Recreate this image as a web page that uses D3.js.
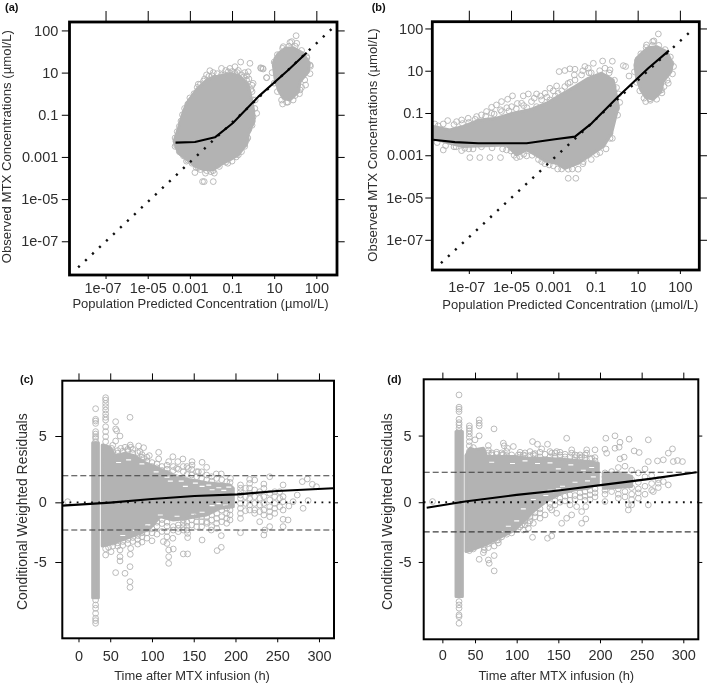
<!DOCTYPE html>
<html><head><meta charset="utf-8">
<script src="https://cdnjs.cloudflare.com/ajax/libs/d3/7.8.5/d3.min.js"></script>
<style>html,body{margin:0;background:#fff}svg{display:block;font-family:"Liberation Sans",Arial,sans-serif;filter:blur(0.35px)}</style>
</head><body><svg id="c" width="709" height="685"></svg>
<script>
// ---------- labels ----------
const logTickValues=[-7,-5,-3,-1,1,3];
const logTickLabels=["1e-07","1e-05","0.001","0.1","10","100"];
const timeTickLabels=["0","50","100","150","200","250","300"];
const resTickLabels=["-5","0","5"];
const xTitleConc="Population Predicted Concentration (µmol/L)";
const yTitleConc="Observed MTX Concentrations (µmol/L)";
const xTitleTime="Time after MTX infusion (h)";
const yTitleRes="Conditional Weighted Residuals";

// ---------- panel a (log10 units) ----------
const aBlob=[[-3.75,-2.26],[-3.54,-1.63],[-3.33,-0.92],[-3.14,-0.44],[-2.91,-0.13],[-2.67,0.22],[-2.19,0.66],[-1.88,0.78],[-1.1,0.95],[-0.65,0.85],[-0.25,0.45],[-0.14,0.03],[0.02,-0.76],[0.05,-1.31],[-0.22,-1.87],[-0.29,-2.34],[-0.69,-2.89],[-1.09,-3.13],[-1.56,-3.37],[-1.88,-3.6],[-2.35,-3.6],[-2.75,-3.45],[-3.14,-3.13],[-3.54,-2.81]];
const aCloud=[[1.2,1.91],[1.51,2.15],[1.91,2.18],[2.38,1.91],[2.67,1.44],[2.62,1.04],[2.23,0.57],[2.15,0.1],[1.75,-0.3],[1.43,-0.22],[1.2,0.18],[1.04,0.73],[0.96,1.36],[1.04,1.68]];
const aPoints=[[-0.59,1.5],[-0.15,1.44],[-0.23,1.04],[-0.86,1.28],[-1.1,1.2],[-1.5,1.2],[-2.05,1.09],[-1.89,1.0],[-2.21,0.89],[-2.45,0.25],[-1.81,0.73],[-1.5,0.89],[-1.18,1.04],[-0.86,0.97],[-0.55,0.89],[-0.31,0.65],[0.37,1.2],[0.48,1.17],[0.64,0.76],[0,0.49],[0.01,-0.3],[0.17,-0.93],[-0.31,-2.19],[-0.26,-1.8],[-0.7,-2.9],[-1.65,-3.37],[-1.84,-3.77],[-2.26,-3.77],[-2.76,-3.74],[-2.4,-4.17],[-2.32,-4.17],[-1.89,-4.17],[-3.16,-3.2],[-3.4,-2.82],[-3.63,-2.46],[-3.27,-1.33],[-3.16,-0.77],[-2.92,-0.3],[-2.1,0.82],[-1.7,0.95],[-1.3,1.1],[-1.0,1.05],[-0.7,1.1],[-0.4,1.0],[-0.2,0.7],[-0.1,0.2],[-2.6,0.45],[-2.35,0.6],[-0.1,-0.6],[-0.05,-1.5],[-0.4,-2.5],[-1.2,-3.3],[-2.0,-3.7],[-2.6,-3.5],
[-3.7,-2.1],[-3.6,-1.8],[-3.5,-1.55],[-3.42,-1.3],[-3.35,-1.0],[-3.25,-0.7],[-3.1,-0.5],[-3.0,-0.2],[-2.8,0.0],[-2.65,0.3],[-2.5,0.45],[-2.3,0.7],[-1.95,0.85],[-1.6,0.75],[-1.35,0.9],[-1.15,0.85],[-0.95,0.9],[-0.75,1.0],[-0.45,0.8],[-0.3,0.85],[-0.05,0.4],
[-3.7,-2.5],[-3.5,-2.75],[-3.3,-2.95],[-3.1,-3.15],[-2.9,-3.3],[-2.7,-3.5],[-2.5,-3.6],[-2.2,-3.65],[-1.9,-3.65],[-1.6,-3.45],[-1.3,-3.25],[-1.0,-3.2],[-0.8,-3.0],[-0.55,-2.75],[-0.4,-2.4],[-0.25,-2.1],[-0.2,-1.7],[-0.1,-1.4],[0.0,-1.1],[0.08,-0.7],[0.1,-0.3],[-0.05,0.1],
[2.04,2.75],[1.75,2.43],[1.83,2.47],[2.07,2.39],[1.43,2.23],[0.36,1.23],[0.45,1.2],[0.64,0.76],[1.04,1.44],[2.49,0.41],[2.23,0.18],[1.99,-0.09],[1.4,-0.49],[1.59,-0.41],[2.7,1.36],[2.54,1.76],
[1.0,1.5],[1.15,1.85],[1.4,2.15],[1.7,2.25],[2.0,2.25],[2.3,2.05],[2.55,1.7],[2.72,1.3],[2.7,0.95],[2.45,0.65],[2.3,0.3],[2.2,0],[1.9,-0.3],[1.65,-0.4],[1.35,-0.3],[1.15,0.1],[1.0,0.5],[0.9,1.0]];
const aSmooth=[[-3.68,-2.32],[-2.76,-2.29],[-1.81,-2.07],[-0.97,-1.4],[0.25,-0.14],[1.67,1.12],[2.54,1.94]];
const aIdentity=[[-8.3,-8.24],[3.97,3.3]];

// ---------- panel b (log10 units) ----------
const bBlob=[[-8.69,-1.64],[-7.9,-1.8],[-7.27,-1.64],[-6.48,-1.33],[-5.69,-1.25],[-4.9,-1.01],[-4.11,-0.85],[-3.32,-0.54],[-1.97,0.25],[-1.34,0.64],[-0.71,0.88],[-0.16,0.56],[0,-0.22],[0.08,-0.7],[-0.08,-1.33],[-0.24,-1.96],[-0.63,-2.59],[-1.34,-3.06],[-1.82,-3.38],[-2.45,-3.62],[-2.84,-3.38],[-3.32,-3.3],[-3.95,-2.91],[-4.26,-2.75],[-4.74,-2.98],[-5.21,-2.51],[-7.27,-2.59],[-7.9,-2.43],[-8.69,-2.2]];
const bCloud=[[1.19,1.83],[1.5,2.09],[1.9,2.14],[2.37,1.91],[2.64,1.35],[2.58,0.96],[2.21,0.49],[2.1,0.01],[1.74,-0.35],[1.38,-0.26],[1.15,0.09],[0.95,0.64],[0.87,1.27],[0.95,1.59]];
const bPoints=[[-0.2,1.45],[-0.66,1.46],[-1.1,1.35],[-1.34,1.12],[-1.5,1.2],[-1.97,1.07],[-2.21,1.09],[-2.45,1.01],[-2.72,0.96],[-0.55,1.12],[-0.31,1.04],[0.32,1.24],[0.43,1.2],[0.59,0.75],[-2.84,0.28],[-3.16,0.17],[-3.39,-0.07],[-3.79,-0.1],[-4.18,-0.1],[-4.42,-0.19],[-4.93,-0.19],[-5.16,-0.35],[-5.45,-0.46],[-5.69,-0.62],[-5.92,-0.73],[-6.16,-0.93],[-6.4,-1.09],[-6.63,-1.17],[-7.03,-1.25],[-7.34,-1.33],[-7.58,-1.41],[-8.0,-1.36],[-8.21,-1.52],[-8.45,-1.61],[-8.61,-1.52],
[-3.55,-0.38],[-4.03,-0.46],[-4.5,-0.54],[-4.97,-0.7],[-5.45,-0.93],[-5.92,-1.01],[-3.79,-0.7],[-3.16,-0.38],[-2.76,-0.07],[-2.45,0.25],[-1.97,0.56],[-1.66,0.8],[-4.25,-0.75],[-4.75,-0.8],[-5.2,-0.75],[-3.0,0.05],[-2.2,0.45],
[-7.7,-1.55],[-7.3,-1.5],[-7,-1.45],[-6.7,-1.3],[-6.2,-1.15],[-5.8,-1.05],[-5.5,-0.85],[-5.1,-0.9],[-4.7,-0.55],[-4.4,-0.65],[-3.9,-0.3],[-3.6,-0.2],[-3.3,-0.25],[-2.9,-0.2],[-2.6,0.05],[-2.3,0.4],[-2.0,0.8],[-1.6,1.0],[-1.3,0.9],
[-8.5,-2.4],[-8.1,-2.55],[-7.6,-2.6],[-7.0,-2.7],[-6.4,-2.6],[-5.9,-2.65],[-5.4,-2.7],[-5.0,-2.8],[-4.85,-3.0],[-4.4,-2.95],[-4.0,-3.0],[-3.7,-3.2],[-3.4,-3.4],[-3.0,-3.5],[-2.6,-3.65],[-2.1,-3.65],[-1.6,-3.4],[-1.2,-3.2],[-0.95,-2.95],[-0.5,-2.7],[-0.2,-2.2],[0.05,-1.1],[0.15,-0.5],[0.1,-0.1],[0,0.2],[-0.1,0.55],[-0.35,0.9],[-0.8,1.0],[-1.2,0.9],
[-6.95,-3.11],[-6.48,-3.11],[-6.0,-3.11],[-5.5,-3.11],[-8.21,-2.75],[-7.34,-2.78],[-7.19,-2.67],[-7.7,-2.6],[-6.8,-2.7],[-5.21,-2.75],[-4.74,-3.11],[-4.58,-3.06],[-4.26,-3.03],[-3.55,-3.3],[-3.19,-3.46],[-2.79,-3.65],[-2.29,-4.09],[-1.93,-4.09],[-2.29,-3.66],[-1.82,-3.66],[-1.58,-3.3],[-0.79,-2.87],[-0.31,-2.2],[-0.31,-1.96],[0,-0.78],[-0.16,0.25],
[1.98,2.74],[1.71,2.38],[1.77,2.41],[1.42,2.22],[1.0,1.46],[2.45,0.41],[2.13,0.09],[1.9,-0.1],[1.38,-0.46],[1.58,-0.33],[2.58,1.35],
[1.0,1.5],[1.15,1.8],[1.4,2.1],[1.7,2.2],[2.0,2.2],[2.3,2.0],[2.55,1.65],[2.7,1.2],[2.65,0.85],[2.4,0.55],[2.25,0.25],[2.15,-0.05],[1.9,-0.35],[1.6,-0.4],[1.3,-0.3],[1.1,0.05],[0.95,0.45],[0.85,0.95]];
const bSmooth=[[-8.69,-2.27],[-7.66,-2.38],[-6.55,-2.43],[-4.26,-2.43],[-2.92,-2.24],[-1.97,-2.12],[-1.18,-1.49],[0.08,-0.22],[1.5,1.12],[2.48,1.95]];
const bIdentity=[[-8.32,-8.11],[3.63,2.98]];

// ---------- panel c (hours, residual) ----------
const cBlob=[[40.5,4.32],[49.7,4.15],[55.7,3.5],[67.7,3.7],[79.6,3.5],[91.6,3.0],[109.6,2.5],[125.5,2.06],[141.5,1.75],[165.5,1.48],[193.4,1.31],[197.4,1.06],[197.4,-0.33],[181.4,-0.45],[165.5,-0.95],[141.5,-1.21],[125.5,-1.33],[109.6,-1.08],[97.6,-1.96],[85.6,-2.34],[69.7,-2.71],[55.7,-3.04],[45.7,-3.22],[40.5,-3.29]];
const cBar=[[29,4.5],[35.8,4.5],[35.8,-7.2],[29,-7.2]];
const cColumns=[[32.5,[7.06,6.26,6.13,5.95,5.33,5.15,4.95,4.82,4.57,-6.98,-7.36,-7.74,-7.99,-8.37,-8.74,-8.92,-9.12]],
[44.5,[7.89,7.71,7.46,7.21,6.96,6.66,6.41,6.21,5.7,5.33,4.95,4.57,-3.97,-3.5]],
[206,[1.31,1.06,0.8,0.55,0.3,-0.08,-0.45,-0.83,-1.21]],[212,[1.06,0.43,-0.08,-0.63]],[217,[1.73,1.43,1.06,0.68,0.3,-0.2,-0.58]],[223,[1.68,0.93,0.43,-0.08,-0.58,-0.83]],[229,[0.8,0.3,-0.2,-0.7,-1.46]],[234,[1.38,1.06,0.43,-0.08,-0.58,-0.95]],[241,[0.68,0.18,-0.33,-0.7,-1.08]],[247,[0.8,0.43,-0.08,-0.45,-0.83]],[253,[0.8,0.3,-0.33]],[257,[1.31,0.43,0.05,-0.58]],
[48,[3.5,3.9,-3.4]],[53,[4.3,3.8,-3.3,-3.0]],[59,[3.9,3.7,-3.3,-3.05]],[65,[3.85,-2.95,-3.25]],[71,[3.9,4.0,-2.8,-3.1]],[77,[3.7,4.0,-2.65,-2.95]],[83,[3.75,-2.5,-2.8,-3.15]],[88,[3.4,3.6,-2.3,-2.6,-3.0]],[94,[3.1,3.4,-2.0,-2.3,-2.7]],
[100,[2.7,3.0,-2.0,-2.3,-2.9]],[106,[2.9,2.6,-1.5,-1.8,-2.4]],[112,[2.4,2.7,-1.3,-1.6,-2.2]],[118,[2.2,2.5,2.8,-1.5,-1.8,-2.2,-2.6,-3.1]],
[125.5,[-1.83,-2.09,2.7,2.4]],[131.5,[-1.71,-1.96,-2.21,2.5]],[137.5,[-1.33,-1.58,-1.83,-2.09,2.31,2.7]],[142,[2.1,2.7,-1.5,-1.8,-2.1]],[147.5,[-1.33,-1.71,2.5,2.06]],[153.5,[-1.08,-1.46,-1.83,2.31,1.93]],[159.5,[-1.08,-1.46,-1.83,2.3,1.8]],[165.5,[-1.08,-1.46,-1.58,2.06,1.7]],[171.5,[-0.95,-1.33,-1.83,1.93,1.6]],[177.5,[-0.83,-1.21,-1.58,-1.96,1.8]],[183.5,[-0.58,-1.08,-1.46,1.7]],[189.5,[-0.45,-0.83,-1.21,-1.58,1.55]],[193.5,[-0.58,-0.95,-1.33,1.5]]];
const cPoints=[[56.5,6.08],[56.5,5.53],[57.7,5.4],[61.7,5.0],[56.5,4.62],[73.7,6.41],[51.7,4.07],[62.5,4.07],[67.7,4.15],[74,4.32],[74.5,4.15],[84,4.25],[90,4.12],[85.6,3.82],[96.8,3.52],[108,3.77],[90,3.32],[108,3.27],[125,3.44],[137,3.27],[120,3.07],[131,3.07],[148,3.07],[148,2.81],[160,3.02],[165.5,2.64],[129.5,2.56],[143.5,2.56],[155.5,2.31],[177,2.14],[183,2.14],[241,1.93],[194,1.81],[280,1.56],[286,1.76],[292,1.36],[297,1.18],[274,0.55],[269,0.05],[264,-0.28],[281,-0.45],[287,0.13],
[206,-2.29],[235,-2.09],[234,-2.46],[241,-1.83],[257,-1.28],[257,-1.83],[263,-1.33],[160,-2.84],[183,-3.39],[178,-3.64],[183,-2.51],[171,-2.09],
[51,-3.72],[61.7,-3.59],[61.7,-4.1],[61.7,-4.42],[74.5,-3.47],[74,-3.92],[56.5,-5.3],[67.7,-5.35],[73.7,-4.85],[73.7,-5.98],[73.7,-6.41],[120,-3.59],[125.5,-3.52],[120,-4.1],[120,-4.6],[113.6,-2.96],[125,-2.71],[137.5,-3.89],[142.7,-3.89],[142.7,-2.34],[142.7,-2.66],[-1,0.05]];
const cFlecks=[[60,3.0],[72,3.2],[88,2.9],[105,2.3],[118,1.9],[122,1.6],[135,1.6],[140,1.2],[152,1.45],[160,1.2],[168,1.3],[172,0.95],[180,1.1],[186,0.9],[192,1.15],[150,-0.9],[160,-0.75],[172,-0.25],[180,-0.1],[188,-0.2],[130,-1.05],[110,-0.95],[95,-1.7],[80,-2.1],[65,-2.5],[128,2.0]];
const cSmooth=[[-7.4,-0.25],[50,-0.02],[100,0.25],[151,0.48],[202,0.6],[250,0.85],[317,1.06]];
const cDashes=[2.0,-2.09];
const cResTicks=[-4.5,0,5];
const cTimeTicks=[12,50,100,150,200,250,300];

// ---------- panel d (hours, residual) ----------
const dBlob=[[39.2,3.5],[44,4.05],[50,3.93],[60,4.05],[64,3.43],[82,3.43],[98,3.43],[114,3.3],[134,3.3],[162,3.18],[186,3.05],[198,2.93],[198,1.43],[186,1.05],[170,0.93],[154,0.68],[138,0.18],[122,-0.58],[114,-1.08],[98,-2.08],[78,-2.7],[62,-3.2],[46,-3.58],[39.2,-3.7]];
const dGapBlob=[[204,2.18],[226,2.18],[238,1.93],[238,1.18],[204,1.05]];
const dBar=[[27.2,5.3],[34.8,5.3],[34.8,-7.07],[27.2,-7.07]];
const dColumns=[[30.8,[8.05,7.13,6.98,6.8,6.22,5.97,5.8,5.55,5.3,-7.45,-7.7,-7.95,-8.45,-8.58,-9.08]],
[43.2,[5.73,5.55,5.35,5.13,4.88,4.55,4.23,3.8,3.3,-3.2,-3.45,-3.63]],
[48,[4.1,-3.5]],[66,[3.7,3.9,-3.1,-3.4]],[70,[3.7,3.55,-2.9]],[76,[3.6,3.75,-2.85]],[82,[3.7,3.55,-2.6]],[88,[3.5,3.8,-2.4]],[94,[3.55,-2.3]],[104,[3.75,3.55,-1.85]],[110,[3.7,3.5,-1.4,-1.7]],[116,[3.5,3.8,-1.1,-1.4]],[122,[3.65,3.5,-0.8,-1.1]],[128,[3.4,3.75,-0.5,-0.8]],[140,[3.4,3.8,-0.1,-0.4]],[146,[3.45,3.7,0.1,-0.2]],[152,[3.4,3.75,0.3,0.0]],[158,[3.4,3.6,0.45,0.1]],[164,[3.4,0.55,0.15,-0.2]],[170,[3.35,3.55,0.5,0.2]],[176,[3.3,3.55,0.7,0.4]],[182,[3.3,3.55,0.8,0.45,0.15]],[188,[3.25,0.9,0.55,0.2]],[194,[3.1,3.35,1.0,0.7,0.4]],
[206,[2.2,1.9,1.6,1.2,0.9,0.6]],[214,[2.3,1.8,1.2,0.8]],[222,[2.6,2.1,1.5,1.0,0.6,0.3]],[230,[2.7,1.9,1.3,0.8,0.4]],[238,[2.4,1.7,1.1,0.6,0.2,-0.2]],[246,[2.2,1.5,1.0,0.7,0.3]],[254,[2.5,1.9,1.2,0.6]],[262,[2.0,1.4,0.9]],[270,[1.7,1.1]]];
const dPoints=[[55,6.18],[55,5.93],[55,5.73],[55,4.98],[50,4.68],[72.8,5.5],[66,4.25],[84,4.43],[85,4.23],[89,4.05],[96,4.18],[119,4.55],[125,4.35],[137,4.35],[130,4.0],[160,4.8],[148,3.8],[142,3.68],[166,3.93],[166,3.68],[184,3.93],[184,3.68],[194,3.93],[102,3.55],[108,3.55],[84,3.6],[120,3.6],[134,3.6],[152,3.55],[172,3.5],[178,3.4],[190,3.3],
[207,4.8],[218,4.98],[206,3.98],[208,3.68],[224,4.5],[223,4.13],[218,4.05],[235,4.73],[224,3.25],[229,3.38],[241,3.85],[247,3.73],[258,4.68],[258,3.05],[269,3.1],[276,3.18],[282,3.68],[287,4.0],[288,3.05],[293,3.13],[299,3.05],[282,1.3],[270,1.43],[276,1.55],[264,0.8],[258,-0.2],[234,-0.2],[234,-0.58],[206,0.05],
[55,-4.28],[60,-3.78],[61,-3.38],[61,-3.58],[66,-4.33],[67,-4.58],[73,-4.0],[73,-5.15],[73,-3.28],[78,-2.83],[78,-3.05],[90,-2.13],[119,-2.63],[137,-2.7],[142,-2.53],[108,-2.08],[114,-1.95],
[154,-1.58],[160,-1.2],[166,-0.95],[178,-1.58],[183,-1.25],[178,-0.7],[172,-0.33],[183,-0.33],[148,-0.83],[142,-0.58],[134,-0.95],[128,-1.2],[120,-1.58],[114,-1.58],[106,-1.7],[-1,0.05]];
const dFlecks=[[70,3.0],[95,2.9],[110,3.1],[125,2.9],[140,2.95],[150,2.5],[165,2.8],[180,2.4],[190,2.6],[140,0.9],[155,1.2],[170,1.5],[185,1.6],[192,1.9],[120,0.2],[108,-0.5],[100,-1.4],[90,-1.8],[135,0.5],[150,1.0],[80,-2.2]];
const dSmooth=[[-8,-0.42],[38,0.05],[100,0.55],[150,0.88],[203,1.3],[260,1.75],[316,2.25]];
const dDashes=[2.25,-2.22];
const dResTicks=[-4.48,0,5];
const dTimeTicks=[10.8,50,100,150,200,250,300];

// ---------- drawing ----------
const svg=d3.select("#c");
const GREY="#b3b3b3", TXT="#2e2e2e";
const expand=cols=>cols.flatMap(([x,ys])=>ys.map(y=>[x,y]));

function panel(o){
  const x=d3.scaleLinear().domain(o.xd).range([o.box[0],o.box[2]]);
  const y=d3.scaleLinear().domain(o.yd).range([o.box[3],o.box[1]]);
  const id="clip"+o.tag;
  svg.append("clipPath").attr("id",id).append("rect").attr("x",o.box[0]).attr("y",o.box[1]).attr("width",o.box[2]-o.box[0]).attr("height",o.box[3]-o.box[1]);
  const g=svg.append("g").attr("clip-path",`url(#${id})`);
  const line=d3.line().x(d=>x(d[0])).y(d=>y(d[1]));
  const closed=d3.line().x(d=>x(d[0])).y(d=>y(d[1])).curve(d3.curveLinearClosed);
  g.selectAll("path.b").data(o.blobs).join("path").attr("class","b").attr("d",closed).attr("fill",GREY).attr("stroke",GREY).attr("stroke-width",3).attr("stroke-linejoin","round");
  g.selectAll("path.f").data(o.flecks||[]).join("path").attr("class","f").attr("d",d=>`M${x(d[0])-2.5},${y(d[1])}h5`).attr("stroke","#fff").attr("stroke-width",1.1);
  g.selectAll("circle").data(o.points).join("circle").attr("cx",d=>x(d[0])).attr("cy",d=>y(d[1])).attr("r",2.9).attr("fill","none").attr("stroke",GREY).attr("stroke-width",0.9);
  (o.dashes||[]).forEach(v=>g.append("path").attr("d",line(x.domain().map(t=>[t,v]))).attr("stroke","#3c3c3c").attr("stroke-width",1.1).attr("stroke-dasharray","6 3").attr("fill","none"));
  if(o.zero) g.append("path").attr("d",line(x.domain().map(t=>[t,0]))).attr("stroke","#111").attr("stroke-width",1.8).attr("stroke-dasharray","1.8 5.4").attr("fill","none");
  if(o.identity) g.append("path").attr("d",line(o.identity)).attr("stroke","#111").attr("stroke-width",2.4).attr("stroke-dasharray","2.2 7.4").attr("fill","none");
  g.append("path").attr("d",line(o.smooth)).attr("stroke","#000").attr("stroke-width",2.1).attr("fill","none").attr("stroke-linejoin","round");

  const fmt=labels=>(d,i)=>labels[i];
  const style=s=>{s.select(".domain").remove();s.selectAll("line").attr("stroke","#000").attr("stroke-width",1);
    s.selectAll("text").attr("font-size",o.fs).attr("fill",TXT).attr("font-family",null);};
  const [l,t,r,b]=o.box;
  svg.append("g").attr("transform",`translate(0,${b})`).call(d3.axisBottom(x).tickValues(o.xticks).tickFormat(fmt(o.xlabels)).tickSize(4).tickPadding(o.xpad)).call(style)
    .selectAll("text").attr("dx",(d,i)=>i===0?(o.firstDx||0):0);
  svg.append("g").attr("transform",`translate(0,${t})`).call(d3.axisTop(x).tickValues(o.xticks).tickFormat("").tickSize(o.topT)).call(style);
  svg.append("g").attr("transform",`translate(${l},0)`).call(d3.axisLeft(y).tickValues(o.yticks).tickFormat(fmt(o.ylabels)).tickSize(o.leftT).tickPadding(o.ypad)).call(style);
  svg.append("g").attr("transform",`translate(${r},0)`).call(d3.axisRight(y).tickValues(o.yticks).tickFormat("").tickSize(o.rightT)).call(style);
  svg.append("rect").attr("x",l).attr("y",t).attr("width",r-l).attr("height",b-t).attr("fill","none").attr("stroke","#000").attr("stroke-width",o.fw);

  svg.append("text").attr("x",o.xt[0]).attr("y",o.xt[1]).attr("text-anchor","middle").attr("font-size",o.tfs).attr("fill",TXT).text(o.xtitle);
  svg.append("text").attr("transform",`translate(${o.yt[0]},${o.yt[1]}) rotate(-90)`).attr("text-anchor","middle").attr("font-size",o.ytfs).attr("fill",TXT).text(o.ytitle);
  svg.append("text").attr("x",o.lab[0]).attr("y",o.lab[1]).attr("font-size",11).attr("font-weight","bold").attr("fill","#111").text(`(${o.tag})`);
}

panel({tag:"a",box:[69.5,22,337,275],xd:[-8.71,3.98],yd:[-8.6,3.4],blobs:[aBlob,aCloud],points:aPoints,smooth:aSmooth,identity:aIdentity,firstDx:-3,
  xticks:logTickValues,xlabels:logTickLabels,yticks:logTickValues,ylabels:logTickLabels,xpad:3.7,ypad:3.5,topT:11,leftT:7.7,rightT:7.7,fw:2.8,fs:14.5,tfs:13,ytfs:13.2,
  xt:[200.5,308],yt:[11,146.7],xtitle:xTitleConc,ytitle:yTitleConc,lab:[5,11]});
panel({tag:"b",box:[432.3,21.7,699.3,270],xd:[-8.73,3.92],yd:[-8.43,3.32],blobs:[bBlob,bCloud],points:bPoints,smooth:bSmooth,identity:bIdentity,firstDx:-2.5,
  xticks:logTickValues,xlabels:logTickLabels,yticks:logTickValues,ylabels:logTickLabels,xpad:7.7,ypad:2,topT:11,leftT:7,rightT:7.7,fw:2.8,fs:14.5,tfs:13,ytfs:13.2,
  xt:[570.3,309],yt:[376.7,145],xtitle:xTitleConc,ytitle:yTitleConc,lab:[371.7,11]});
panel({tag:"c",box:[62.3,380.7,334,638.3],xd:[-7.4,318],yd:[-10.25,9.17],blobs:[cBlob,cBar],flecks:cFlecks,points:cPoints.concat(expand(cColumns)),smooth:cSmooth,dashes:cDashes,zero:true,
  xticks:cTimeTicks,xlabels:timeTickLabels,yticks:cResTicks,ylabels:resTickLabels,xpad:8.7,ypad:8.6,topT:7.3,leftT:7,rightT:4,fw:2,fs:14.5,tfs:12.9,ytfs:13.9,
  xt:[192,680],yt:[27.3,511.7],xtitle:xTitleTime,ytitle:yTitleRes,lab:[20,383]});
panel({tag:"d",box:[423.7,379.3,698.3,639.3],xd:[-11.6,318],yd:[-10.28,9.22],blobs:[dBlob,dGapBlob,dBar],flecks:dFlecks,points:dPoints.concat(expand(dColumns)),smooth:dSmooth,dashes:dDashes,zero:true,
  xticks:dTimeTicks,xlabels:timeTickLabels,yticks:dResTicks,ylabels:resTickLabels,xpad:6.7,ypad:7,topT:6.7,leftT:5,rightT:4,fw:2,fs:14.5,tfs:12.9,ytfs:13.9,
  xt:[556.3,680],yt:[391.7,511.7],xtitle:xTitleTime,ytitle:yTitleRes,lab:[387.3,383]});
</script></body></html>
